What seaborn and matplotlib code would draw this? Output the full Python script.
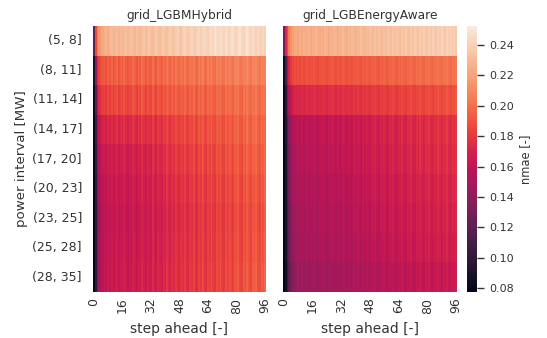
import matplotlib
matplotlib.use("Agg")
import matplotlib.pyplot as plt
import numpy as np
import pandas as pd
import seaborn as sns

sns.set_theme(style="white")
plt.rcParams["font.family"] = ["DejaVu Sans"]

intervals = ["(5, 8]", "(8, 11]", "(11, 14]", "(14, 17]", "(17, 20]",
             "(20, 23]", "(23, 25]", "(25, 28]", "(28, 35]"]
steps = list(range(97))
models = ["grid_LGBMHybrid", "grid_LGBEnergyAware"]

# nmae x 1000 per power interval, steps 0..96
hybrid_r0 = [121, 186, 206, 214, 219, 223, 225, 227, 224, 228,
             230, 226, 229, 231, 227, 230, 228, 231, 233, 229,
             231, 234, 230, 228, 233, 231, 229, 233, 235, 230,
             233, 236, 232, 230, 234, 237, 233, 231, 235, 238,
             234, 232, 236, 239, 235, 233, 238, 240, 236, 234,
             239, 241, 237, 235, 240, 242, 238, 236, 241, 243,
             239, 242, 245, 241, 239, 244, 246, 242, 248, 245,
             243, 247, 244, 241, 246, 243, 240, 245, 247, 242,
             240, 245, 248, 243, 241, 246, 249, 244, 242, 246,
             243, 240, 244, 241, 239, 243, 240]
hybrid_r1 = [88, 141, 172, 183, 188, 191, 193, 188, 195, 190,
             196, 189, 193, 197, 190, 195, 192, 198, 193, 190,
             196, 192, 199, 194, 190, 197, 193, 199, 196, 191,
             198, 194, 192, 200, 195, 191, 199, 196, 193, 201,
             196, 202, 198, 193, 201, 197, 203, 198, 195, 202,
             199, 204, 198, 196, 203, 200, 205, 199, 197, 205,
             201, 206, 199, 198, 205, 202, 207, 200, 199, 206,
             203, 208, 201, 200, 207, 203, 209, 204, 201, 208,
             205, 209, 203, 202, 208, 205, 210, 206, 202, 209,
             206, 210, 205, 203, 209, 206, 207]
hybrid_r2 = [82, 121, 156, 172, 178, 182, 184, 180, 186, 182,
             187, 181, 185, 189, 182, 186, 184, 190, 185, 182,
             188, 184, 191, 187, 183, 189, 185, 192, 188, 184,
             191, 187, 185, 193, 188, 184, 192, 189, 186, 194,
             189, 195, 191, 186, 194, 190, 196, 191, 188, 195,
             192, 197, 191, 189, 196, 193, 198, 192, 190, 198,
             194, 199, 192, 191, 198, 195, 200, 194, 192, 199,
             196, 201, 194, 193, 200, 196, 202, 198, 194, 201,
             198, 202, 196, 195, 201, 198, 203, 199, 196, 202,
             199, 204, 198, 196, 203, 200, 201]
hybrid_r3 = [80, 108, 140, 158, 166, 170, 172, 168, 174, 171,
             175, 169, 173, 177, 170, 174, 172, 178, 173, 170,
             176, 172, 179, 175, 171, 178, 174, 180, 176, 172,
             180, 176, 174, 182, 177, 173, 181, 178, 175, 184,
             179, 185, 180, 176, 184, 181, 187, 182, 179, 186,
             183, 189, 182, 181, 188, 185, 190, 184, 183, 191,
             187, 192, 185, 184, 191, 188, 194, 187, 186, 193,
             190, 195, 188, 187, 194, 190, 197, 192, 189, 196,
             193, 198, 191, 190, 197, 193, 200, 195, 191, 199,
             195, 201, 194, 192, 199, 196, 198]
hybrid_r4 = [79, 103, 132, 150, 159, 164, 166, 162, 168, 165,
             169, 163, 167, 171, 164, 168, 166, 172, 167, 164,
             170, 166, 173, 169, 165, 172, 168, 175, 171, 166,
             175, 171, 168, 177, 172, 168, 176, 173, 170, 179,
             174, 181, 176, 171, 180, 176, 183, 178, 174, 182,
             179, 185, 178, 176, 184, 181, 187, 180, 178, 187,
             183, 189, 181, 180, 188, 184, 191, 184, 182, 190,
             187, 192, 185, 183, 191, 187, 194, 189, 185, 193,
             190, 195, 188, 186, 194, 190, 197, 192, 188, 196,
             192, 198, 191, 189, 197, 193, 198]
hybrid_r5 = [78, 101, 128, 146, 155, 160, 163, 159, 165, 162,
             166, 160, 164, 168, 161, 165, 163, 169, 164, 161,
             167, 163, 170, 166, 162, 169, 165, 172, 168, 163,
             172, 168, 165, 174, 169, 165, 173, 170, 167, 176,
             171, 178, 173, 168, 177, 173, 180, 175, 171, 179,
             176, 182, 175, 173, 181, 178, 184, 177, 175, 184,
             180, 186, 178, 177, 185, 181, 188, 181, 179, 187,
             184, 189, 182, 180, 188, 184, 191, 186, 182, 190,
             187, 192, 185, 183, 191, 187, 194, 189, 185, 193,
             189, 195, 188, 186, 194, 190, 196]
hybrid_r6 = [78, 99, 125, 143, 152, 157, 161, 157, 163, 160,
             164, 158, 162, 166, 159, 163, 161, 167, 162, 159,
             165, 161, 168, 164, 160, 167, 163, 170, 166, 161,
             170, 166, 163, 172, 167, 163, 171, 168, 165, 174,
             169, 176, 171, 166, 175, 171, 178, 173, 169, 177,
             174, 180, 173, 171, 179, 176, 182, 175, 173, 182,
             178, 184, 176, 175, 183, 179, 186, 179, 177, 185,
             182, 187, 180, 178, 186, 182, 189, 184, 180, 188,
             185, 190, 183, 181, 189, 185, 192, 187, 183, 191,
             187, 193, 186, 184, 192, 188, 194]
hybrid_r7 = [78, 100, 126, 144, 153, 158, 162, 159, 164, 160,
             165, 159, 163, 167, 161, 164, 162, 168, 164, 160,
             166, 162, 169, 165, 161, 168, 164, 171, 167, 162,
             171, 167, 164, 173, 168, 164, 172, 169, 166, 175,
             170, 177, 172, 167, 176, 172, 179, 174, 170, 178,
             175, 181, 174, 172, 180, 177, 183, 176, 174, 183,
             179, 185, 177, 176, 184, 180, 187, 180, 178, 186,
             183, 188, 181, 179, 187, 183, 190, 185, 181, 189,
             186, 191, 184, 182, 190, 186, 193, 188, 184, 192,
             188, 194, 187, 185, 193, 189, 195]
hybrid_r8 = [77, 101, 127, 145, 154, 159, 163, 160, 165, 161,
             166, 160, 164, 168, 162, 165, 163, 169, 165, 161,
             167, 163, 170, 166, 162, 169, 165, 172, 168, 163,
             172, 168, 165, 174, 169, 165, 173, 170, 167, 176,
             171, 178, 173, 168, 177, 173, 180, 175, 171, 179,
             176, 182, 175, 173, 181, 178, 184, 177, 175, 184,
             180, 186, 178, 177, 185, 181, 188, 181, 179, 187,
             184, 190, 182, 180, 188, 184, 191, 186, 182, 190,
             187, 193, 185, 183, 192, 187, 195, 189, 185, 194,
             190, 196, 188, 186, 195, 191, 197]

aware_r0 = [128, 172, 186, 205, 214, 219, 222, 224, 221, 225,
            223, 226, 222, 225, 227, 223, 226, 224, 228, 225,
            223, 227, 224, 228, 226, 223, 228, 225, 229, 227,
            224, 229, 226, 230, 227, 225, 230, 227, 231, 228,
            226, 231, 228, 232, 229, 227, 232, 229, 233, 230,
            228, 233, 230, 234, 231, 229, 234, 231, 235, 232,
            230, 235, 232, 236, 233, 231, 236, 233, 237, 234,
            232, 237, 234, 238, 235, 233, 238, 235, 239, 236,
            234, 239, 236, 240, 237, 235, 240, 237, 241, 238,
            236, 241, 238, 240, 237, 239, 236]
aware_r1 = [84, 112, 148, 170, 180, 185, 187, 185, 188, 186,
            189, 186, 188, 190, 187, 189, 188, 190, 188, 186,
            190, 187, 191, 189, 187, 190, 188, 192, 190, 187,
            191, 189, 188, 192, 190, 188, 193, 190, 189, 193,
            190, 194, 191, 189, 193, 191, 195, 192, 190, 194,
            192, 195, 193, 191, 195, 193, 196, 193, 192, 196,
            194, 197, 194, 193, 197, 195, 198, 195, 194, 198,
            196, 199, 196, 195, 199, 197, 200, 197, 196, 200,
            198, 201, 198, 197, 201, 199, 202, 199, 198, 202,
            200, 203, 199, 198, 202, 200, 203]
aware_r2 = [80, 100, 128, 150, 162, 168, 172, 170, 173, 171,
            174, 171, 173, 175, 172, 174, 173, 176, 174, 172,
            175, 173, 177, 175, 172, 176, 174, 178, 176, 173,
            177, 175, 174, 178, 176, 174, 179, 176, 175, 180,
            177, 181, 178, 176, 180, 178, 182, 179, 177, 181,
            179, 183, 180, 178, 182, 180, 184, 181, 179, 183,
            181, 185, 182, 180, 184, 182, 186, 183, 181, 185,
            183, 187, 184, 182, 186, 184, 188, 185, 183, 187,
            185, 189, 186, 184, 188, 186, 190, 187, 185, 189,
            187, 191, 188, 186, 190, 188, 191]
aware_r3 = [79, 95, 117, 134, 145, 152, 156, 157, 159, 157,
            161, 156, 159, 162, 157, 160, 158, 163, 159, 157,
            162, 159, 164, 161, 158, 163, 160, 165, 162, 159,
            164, 161, 160, 166, 163, 159, 167, 163, 161, 168,
            164, 169, 166, 162, 168, 165, 170, 166, 164, 170,
            167, 172, 167, 165, 171, 168, 173, 168, 166, 173,
            170, 174, 169, 168, 173, 171, 176, 170, 169, 175,
            172, 177, 171, 170, 176, 173, 178, 174, 171, 177,
            174, 179, 173, 172, 178, 175, 180, 176, 173, 179,
            176, 181, 175, 174, 180, 177, 179]
aware_r4 = [78, 93, 114, 130, 141, 148, 153, 154, 157, 155,
            159, 154, 157, 160, 155, 158, 156, 161, 157, 155,
            160, 157, 162, 159, 156, 161, 158, 163, 160, 157,
            162, 159, 158, 164, 161, 157, 165, 161, 159, 166,
            162, 167, 164, 160, 166, 163, 168, 164, 162, 168,
            165, 170, 165, 163, 169, 166, 171, 166, 164, 171,
            168, 172, 167, 166, 171, 169, 174, 168, 167, 173,
            170, 175, 169, 168, 174, 171, 176, 172, 169, 175,
            172, 177, 171, 170, 176, 173, 178, 174, 171, 177,
            174, 179, 173, 172, 178, 175, 177]
aware_r5 = [78, 92, 112, 128, 139, 146, 150, 151, 154, 152,
            156, 151, 154, 157, 152, 155, 153, 158, 154, 152,
            157, 154, 159, 156, 153, 158, 155, 160, 157, 154,
            159, 156, 155, 161, 158, 154, 162, 158, 156, 163,
            159, 164, 161, 157, 163, 160, 165, 161, 159, 165,
            162, 167, 162, 160, 166, 163, 168, 163, 161, 168,
            165, 169, 164, 163, 168, 166, 171, 165, 164, 170,
            167, 172, 166, 165, 171, 168, 173, 169, 166, 172,
            169, 174, 168, 167, 173, 170, 175, 171, 168, 174,
            171, 176, 170, 169, 175, 172, 174]
aware_r6 = [78, 91, 109, 124, 135, 142, 147, 149, 152, 150,
            154, 149, 152, 155, 150, 153, 151, 156, 152, 150,
            155, 152, 157, 154, 151, 156, 153, 158, 155, 152,
            157, 154, 153, 159, 156, 152, 160, 156, 154, 161,
            157, 162, 159, 155, 161, 158, 163, 159, 157, 163,
            160, 165, 160, 158, 164, 161, 166, 161, 159, 166,
            163, 167, 162, 161, 166, 164, 169, 163, 162, 168,
            165, 170, 164, 163, 169, 166, 171, 167, 164, 170,
            167, 172, 166, 165, 171, 168, 173, 169, 166, 172,
            169, 174, 168, 167, 173, 170, 172]
aware_r7 = [78, 90, 107, 122, 133, 140, 145, 147, 150, 148,
            152, 147, 150, 153, 148, 151, 149, 154, 150, 148,
            153, 150, 155, 152, 149, 154, 151, 156, 153, 150,
            155, 152, 151, 157, 154, 150, 158, 154, 152, 159,
            155, 160, 157, 153, 159, 156, 161, 157, 155, 161,
            158, 163, 158, 156, 162, 159, 164, 159, 157, 164,
            161, 165, 160, 159, 164, 162, 167, 161, 160, 166,
            163, 168, 162, 161, 167, 164, 169, 165, 162, 168,
            165, 170, 164, 163, 169, 166, 171, 167, 164, 170,
            167, 172, 166, 165, 171, 168, 170]
aware_r8 = [77, 88, 103, 118, 128, 135, 140, 142, 146, 144,
            148, 143, 146, 149, 144, 147, 145, 150, 146, 144,
            149, 146, 151, 148, 145, 150, 147, 152, 149, 146,
            151, 148, 147, 153, 150, 146, 154, 150, 148, 155,
            151, 156, 153, 149, 155, 152, 157, 153, 151, 157,
            154, 159, 154, 152, 158, 155, 160, 155, 153, 160,
            157, 161, 156, 155, 160, 158, 163, 157, 156, 162,
            159, 164, 158, 157, 163, 160, 165, 161, 158, 164,
            161, 166, 160, 159, 165, 162, 167, 163, 160, 166,
            163, 168, 162, 161, 167, 164, 166]

hybrid_rows = [hybrid_r0, hybrid_r1, hybrid_r2, hybrid_r3, hybrid_r4,
               hybrid_r5, hybrid_r6, hybrid_r7, hybrid_r8]
aware_rows = [aware_r0, aware_r1, aware_r2, aware_r3, aware_r4,
              aware_r5, aware_r6, aware_r7, aware_r8]


def to_frame(rows):
    return pd.DataFrame(np.array(rows, dtype=float) / 1000.0,
                        index=intervals, columns=steps)


frames = [to_frame(hybrid_rows), to_frame(aware_rows)]

W, H = 547, 338
fig = plt.figure(figsize=(W / 100, H / 100), dpi=100)
bottom, height = (H - 292) / H, 266 / H
ax1 = fig.add_axes([93 / W, bottom, 173 / W, height])
ax2 = fig.add_axes([283 / W, bottom, 174 / W, height])
cax = fig.add_axes([467 / W, bottom, 10 / W, height])

text_color = "#333333"
vmin, vmax = 0.0775, 0.2525

for i, (ax, df, title) in enumerate(zip([ax1, ax2], frames, models)):
    sns.heatmap(df, ax=ax, cmap="rocket", vmin=vmin, vmax=vmax,
                xticklabels=16, yticklabels=(i == 0),
                cbar=(i == 1), cbar_ax=cax if i == 1 else None,
                cbar_kws={"label": "nmae [-]"} if i == 1 else None)
    ax.set_title(title, fontsize=8.8, color=text_color, pad=5)
    ax.set_xlabel("step ahead [-]", fontsize=10, color=text_color,
                  labelpad=6)
    ax.tick_params(axis="x", labelsize=9, labelrotation=90,
                   colors=text_color, length=0, pad=4)
    ax.tick_params(axis="y", labelsize=9, labelrotation=0,
                   colors=text_color, length=0, pad=8)
    if i == 0:
        ax.set_ylabel("power interval [MW]", fontsize=9.6, color=text_color,
                      labelpad=3)
    else:
        ax.set_ylabel("")

cax.set_yticks([0.08, 0.10, 0.12, 0.14, 0.16, 0.18, 0.20, 0.22, 0.24])
cax.tick_params(labelsize=8, colors=text_color, length=5, width=1,
                right=True, direction="out")
cax.yaxis.label.set_size(8.3)
cax.yaxis.label.set_color(text_color)

fig.savefig("out.png", dpi=100)
